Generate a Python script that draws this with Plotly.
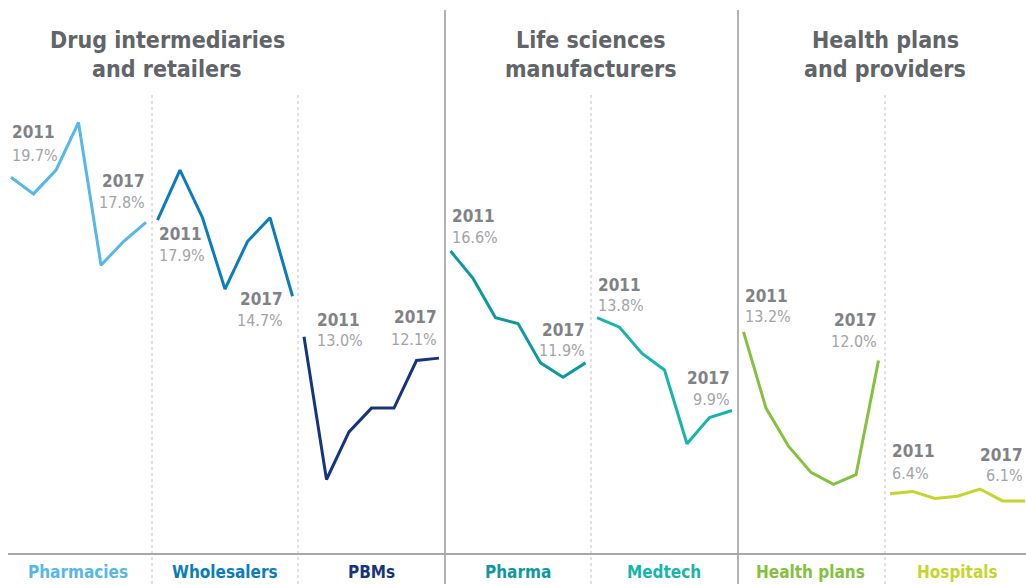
import plotly.graph_objects as go
from plotly.subplots import make_subplots

# ---------------- data ----------------
years = [2011, 2012, 2013, 2014, 2015, 2016, 2017]
segments = ["Pharmacies", "Wholesalers", "PBMs", "Pharma", "Medtech", "Health plans", "Hospitals"]
pharmacies = [19.7, 19.0, 20.0, 22.0, 16.0, 17.0, 17.8]
wholesalers = [17.9, 20.0, 18.0, 15.0, 17.0, 18.0, 14.7]
pbms = [13.0, 7.0, 9.0, 10.0, 10.0, 12.0, 12.1]
pharma = [16.6, 15.45, 13.8, 13.55, 11.9, 11.3, 11.9]
medtech = [13.8, 13.4, 12.3, 11.6, 8.5, 9.6, 9.9]
health_plans = [13.2, 10.0, 8.4, 7.3, 6.8, 7.2, 12.0]
hospitals = [6.4, 6.5, 6.2, 6.3, 6.6, 6.1, 6.1]
group_titles = [["Drug intermediaries", "and retailers"],
                ["Life sciences", "manufacturers"],
                ["Health plans", "and providers"]]

series = [pharmacies, wholesalers, pbms, pharma, medtech, health_plans, hospitals]

# ---------------- style ----------------
colors = ["#56B8E8", "#0A7DBA", "#17357F", "#0E98A0", "#17B5AC", "#84C13F", "#C6D52D"]
FONT = "DejaVu Sans Condensed, Liberation Sans Narrow, Roboto, sans-serif"
W, H = 1026, 584
OFF = 0                      # page (body) margin in the browser (removed below)
TOP, BOT = 10, 554           # plot area, page pixels
FIRST0, PW = 11.0, 146.5     # first point of first panel, panel pitch (page px)
XSTEP = 22.5                 # px per year
PX_PER_UNIT = 23.8
Y0_PX = 646.1                # page pixel of value 0
Y_RANGE = [(Y0_PX - BOT) / PX_PER_UNIT, (Y0_PX - TOP) / PX_PER_UNIT]

# label placement: (xanchor, dx, year-line up, value-line up) for first / last point
label_pos = [
    (("left", -1, 45, 22), ("right", 1, 41, 19.5)),
    (("left", -1, -13.5, -35.5), ("right", -8, -3, -24)),
    (("left", 11, 17, -4), ("right", 0, 41, 19)),
    (("left", -1, 35.5, 14), ("right", 1, 33, 12)),
    (("left", -1, 33, 12), ("right", 0, 32.5, 10.5)),
    (("left", -1, 35.5, 15), ("right", 0, 40.5, 19.5)),
    (("left", 0, 42.5, 20), ("right", 0, 45.5, 25)),
]

def px_x(px):
    return (px - OFF) / W

def px_y(py):
    return (BOT - py) / (BOT - TOP)

fig = make_subplots(rows=1, cols=7, shared_yaxes=True, horizontal_spacing=0)

for i, (name, vals, col) in enumerate(zip(segments, series, colors)):
    fig.add_trace(
        go.Scatter(x=list(range(len(years))), y=vals, mode="lines",
                   line=dict(color=col, width=3), name=name, showlegend=False,
                   hoverinfo="skip"),
        row=1, col=i + 1)
    first = FIRST0 + PW * i
    left = max(OFF, first - 6)
    right = min(W + OFF, first + PW - 6)
    xa = "xaxis" if i == 0 else f"xaxis{i+1}"
    fig.layout[xa].update(domain=[px_x(left), px_x(right)],
                          range=[(left - first) / XSTEP, (right - first) / XSTEP],
                          visible=False, fixedrange=True)
    xref = "x" if i == 0 else f"x{i+1}"
    for k, idx in enumerate([0, len(years) - 1]):
        anchor, dx, dy_year, dy_val = label_pos[i][k]
        fig.add_annotation(x=idx, y=vals[idx], xref=xref, yref="y",
                           text=f"<b>{years[idx]}</b>", showarrow=False,
                           xanchor=anchor, yanchor="middle", xshift=dx, yshift=dy_year,
                           font=dict(family=FONT, size=17, color="#808286"))
        fig.add_annotation(x=idx, y=vals[idx], xref=xref, yref="y",
                           text=f"{vals[idx]:.1f}%", showarrow=False,
                           xanchor=anchor, yanchor="middle", xshift=dx, yshift=dy_val,
                           font=dict(family=FONT, size=16, color="#a2a4a7"))
    # category label under the baseline
    fig.add_annotation(x=px_x(first - 6 + PW / 2), y=px_y(572), xref="paper", yref="paper",
                       text=f"<b>{name}</b>", showarrow=False, xanchor="center", yanchor="middle",
                       font=dict(family=FONT, size=17, color=col))

fig.update_yaxes(range=Y_RANGE, visible=False, fixedrange=True)
fig.update_layout(yaxis=dict(domain=[0, 1]))

# group titles
title_x = [167, 591, 885]
for (l1, l2), tx in zip(group_titles, title_x):
    for line, py in ((l1, 40), (l2, 69)):
        fig.add_annotation(x=px_x(tx), y=px_y(py), xref="paper", yref="paper",
                           text=f"<b>{line}</b>", showarrow=False, xanchor="center", yanchor="middle",
                           font=dict(family=FONT, size=23, color="#616468"))

shapes = []
for sx in (445, 738):   # solid group separators
    shapes.append(dict(type="line", xref="paper", yref="paper",
                       x0=px_x(sx), x1=px_x(sx), y0=px_y(10), y1=px_y(584),
                       line=dict(color="#9a9a9a", width=1.5)))
for sx in (152, 298, 591, 885):   # dotted panel separators
    shapes.append(dict(type="line", xref="paper", yref="paper",
                       x0=px_x(sx), x1=px_x(sx), y0=px_y(95), y1=px_y(584),
                       line=dict(color="#c4c4c4", width=1, dash="dot")))
shapes.append(dict(type="line", xref="paper", yref="paper",   # baseline
                   x0=px_x(8), x1=1, y0=px_y(554), y1=px_y(554),
                   line=dict(color="#a8a8a8", width=2)))

fig.update_layout(shapes=shapes, width=W, height=H,
                  margin=dict(l=0, r=0, t=TOP - OFF, b=H - (BOT - OFF)),
                  paper_bgcolor="white", plot_bgcolor="white",
                  font=dict(family=FONT))

fig.write_html("out.html",
               config={"displayModeBar": False, "staticPlot": True},
               post_script="document.body.style.margin='0';document.body.style.overflow='hidden';")
